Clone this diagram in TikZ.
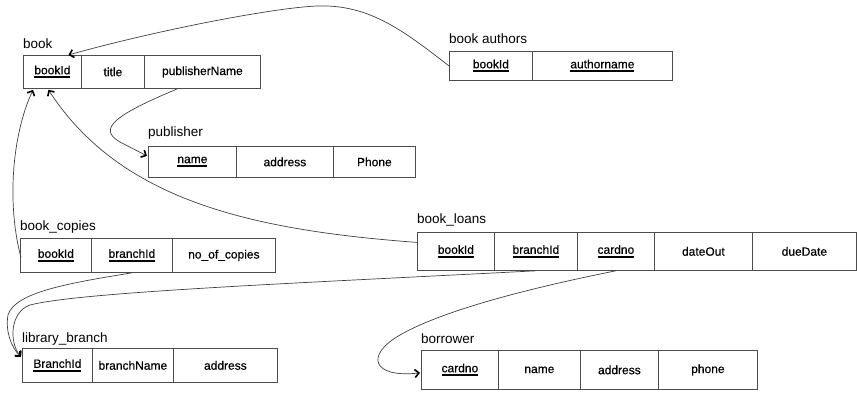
\documentclass[tikz,border=0pt]{standalone}
\usepackage{fontspec}
\setmainfont{Liberation Sans}
\newfontfamily\cellfont{Liberation Sans}[FakeBold=0.5]
\usetikzlibrary{arrows.meta,calc}
\newcommand\ukey[1]{\setbox0=\hbox{#1}\vtop{\hbox{\copy0}\kern1.8pt\hrule height 2pt width \wd0}}
\newcommand\cel[6]{\node[cell,minimum width=#4pt,minimum height=#5pt] (#1) at (#2,#3) {#6};}
\begin{document}
\begin{tikzpicture}[x=1pt,y=-1pt,
  cell/.style={draw=black!70, line width=0.8pt, anchor=north west, inner sep=0pt, font=\cellfont\fontsize{12}{14}\selectfont},
  ttl/.style={anchor=base west, inner sep=0pt, font=\fontsize{13.5}{16}\selectfont},
  conn/.style={draw=black!75, line width=0.7pt},
  arr/.style={-{Straight Barb[length=4pt,width=8pt,line width=1.6pt,color=black]}}]
\useasboundingbox (0,0) rectangle (857,397);
% book
\node[ttl] (tbk) at (23,48) {book};
\cel{bk1}{23}{55}{58}{33}{\ukey{bookId}}
\cel{bk2}{81}{55}{63}{33}{title}
\cel{bk3}{144}{55}{116}{33}{publisherName}
% book authors
\node[ttl] (tba) at (449,43) {book authors};
\cel{ba1}{449}{51}{83}{29}{\ukey{bookId}}
\cel{ba2}{532}{51}{140}{29}{\ukey{authorname}}
% publisher
\node[ttl] (tpu) at (148,136) {publisher};
\cel{pu1}{148}{146}{88}{31}{\ukey{name}}
\cel{pu2}{236}{146}{97}{31}{address}
\cel{pu3}{333}{146}{82}{31}{Phone}
% book_copies
\node[ttl] (tbc) at (20,230) {book\_copies};
\cel{bc1}{20}{238}{71}{34}{\ukey{bookId}}
\cel{bc2}{91}{238}{81}{34}{\ukey{branchId}}
\cel{bc3}{172}{238}{103}{34}{no\_of\_copies}
% book_loans
\node[ttl] (tbl) at (417,223) {book\_loans};
\cel{bl1}{417}{232}{77}{38}{\ukey{bookId}}
\cel{bl2}{494}{232}{83}{38}{\ukey{branchId}}
\cel{bl3}{577}{232}{77}{38}{\ukey{cardno}}
\cel{bl4}{654}{232}{98}{38}{dateOut}
\cel{bl5}{752}{232}{104}{38}{dueDate}
% library_branch
\node[ttl] (tlb) at (22,342) {library\_branch};
\cel{lb1}{22}{348}{70}{34}{\ukey{BranchId}}
\cel{lb2}{92}{348}{81}{34}{branchName}
\cel{lb3}{173}{348}{104}{34}{address}
% borrower
\node[ttl] (tbo) at (421,343) {borrower};
\cel{bo1}{421}{350}{77}{39}{\ukey{cardno}}
\cel{bo2}{498}{350}{82}{39}{name}
\cel{bo3}{580}{350}{78}{39}{address}
\cel{bo4}{658}{350}{99}{39}{phone}
% connectors
\coordinate (e1) at ($(bk1.north)+(16,0)$);
\draw[conn,arr] (ba1.west) .. controls (405,32) and (370,4) .. (317,6)
   .. controls (270,8) and (150,32) .. (e1);
\coordinate (e2) at ($(pu1.west)+(-1,-6)$);
\draw[conn,arr] ($(bk3.south)+(-25,0)$) .. controls (120,113) and (95,128) .. (120,142) -- (e2);
\coordinate (e3) at ($(bk1.south west)+(10,1)$);
\draw[conn,arr] ($(bc1.west)+(1,2)$) .. controls (8,210) and (10,140) .. (e3);
\coordinate (e4) at ($(bk1.south)+(-4,1)$);
\draw[conn,arr] ($(bl1.west)+(0,-9)$) .. controls (250,230) and (120,200) .. (e4);
\coordinate (e5) at ($(lb1.north west)+(-1,9)$);
\draw[conn,arr] (bc2.south) .. controls (70,283) and (15,292) .. (8,315)
   .. controls (5,332) and (12,348) .. (e5);
\draw[conn,arr] (bl2.south) .. controls (300,283) and (80,292) .. (30,305)
   .. controls (10,312) and (9,342) .. (e5);
\coordinate (e7) at ($(bo1.west)+(-1,3)$);
\draw[conn,arr] (bl3.south) .. controls (520,290) and (440,312) .. (400,335)
   .. controls (365,355) and (372,378) .. (e7);
\end{tikzpicture}
\end{document}
